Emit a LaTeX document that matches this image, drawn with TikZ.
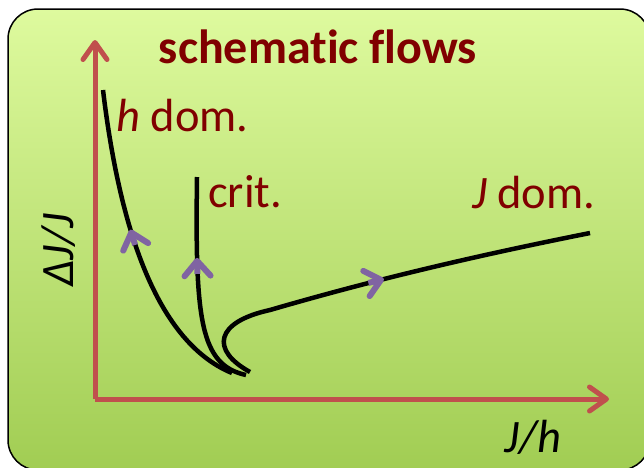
\documentclass[tikz,border=0pt]{standalone}
\usepackage{fontspec}
\setmainfont{Carlito}[Ligatures=NoCommon]
\usepackage{tikz}
\usetikzlibrary{arrows.meta,decorations.markings}
\definecolor{flowred}{RGB}{128,0,0}
\definecolor{axisred}{RGB}{192,80,77}
\definecolor{flowpurple}{RGB}{128,100,162}
\definecolor{topgreen}{RGB}{222,250,158}
\definecolor{botgreen}{RGB}{161,205,83}

\begin{document}
\begin{tikzpicture}[x=1pt,y=-1pt,
  axis/.style={draw=axisred, line width=5pt, -{Straight Barb[length=17pt,width=24pt,round]}},
  flow/.style={draw=black, line width=4.5pt},
  flowtip/.style={draw=flowpurple, line width=6pt, -{Straight Barb[length=15pt,width=26pt,round]}},
  lbl/.style={text=flowred, inner sep=0pt, font=\fontsize{46.5}{50}\selectfont},
  arrowat/.style={postaction={decorate}, decoration={markings,
    mark=at position #1 with {\draw[flowtip] (-16pt,0pt) -- (0pt,0pt);}}}]
\useasboundingbox (0,0) rectangle (644,467);
% panel
\draw[rounded corners=30pt, line width=1.5pt, top color=topgreen, bottom color=botgreen] (8,9) rectangle (650,470);
\node[lbl, font=\fontsize{48}{52}\selectfont\bfseries, anchor=base] (title) at (318,63) {schematic flows};
% axes
\coordinate (O) at (95,399);
\coordinate (ytip) at (95,40);
\coordinate (xtip) at (609,399);
\draw[axis] (O) -- (ytip);
\draw[axis] (O) -- (xtip);
\node[lbl, text=black, anchor=base west] (xlabel) at (504,452) {\textit{J/h}};
\node[lbl, text=black, rotate=90, anchor=base west] (ylabel) at (73,287) {\textit{ΔJ/J}};
% flows
\draw[flow, arrowat=0.56] (232,373) .. controls (152,340) and (118,215) .. (103,90);
\draw[flow, arrowat=0.63] (246,375) .. controls (200,365) and (195,320) .. (197,177);
\draw[flow, arrowat=0.51] (250,372) .. controls (210,350) and (215,322) .. (270,310)
  .. controls (380,278) and (480,255) .. (590,233);
\node[lbl, anchor=base west] (hdom) at (116,131) {\textit{h} dom.};
\node[lbl, anchor=base west] (crit) at (208,207) {crit.};
\node[lbl, anchor=base west] (Jdom) at (472,208) {\textit{J} dom.};
\end{tikzpicture}
\end{document}
